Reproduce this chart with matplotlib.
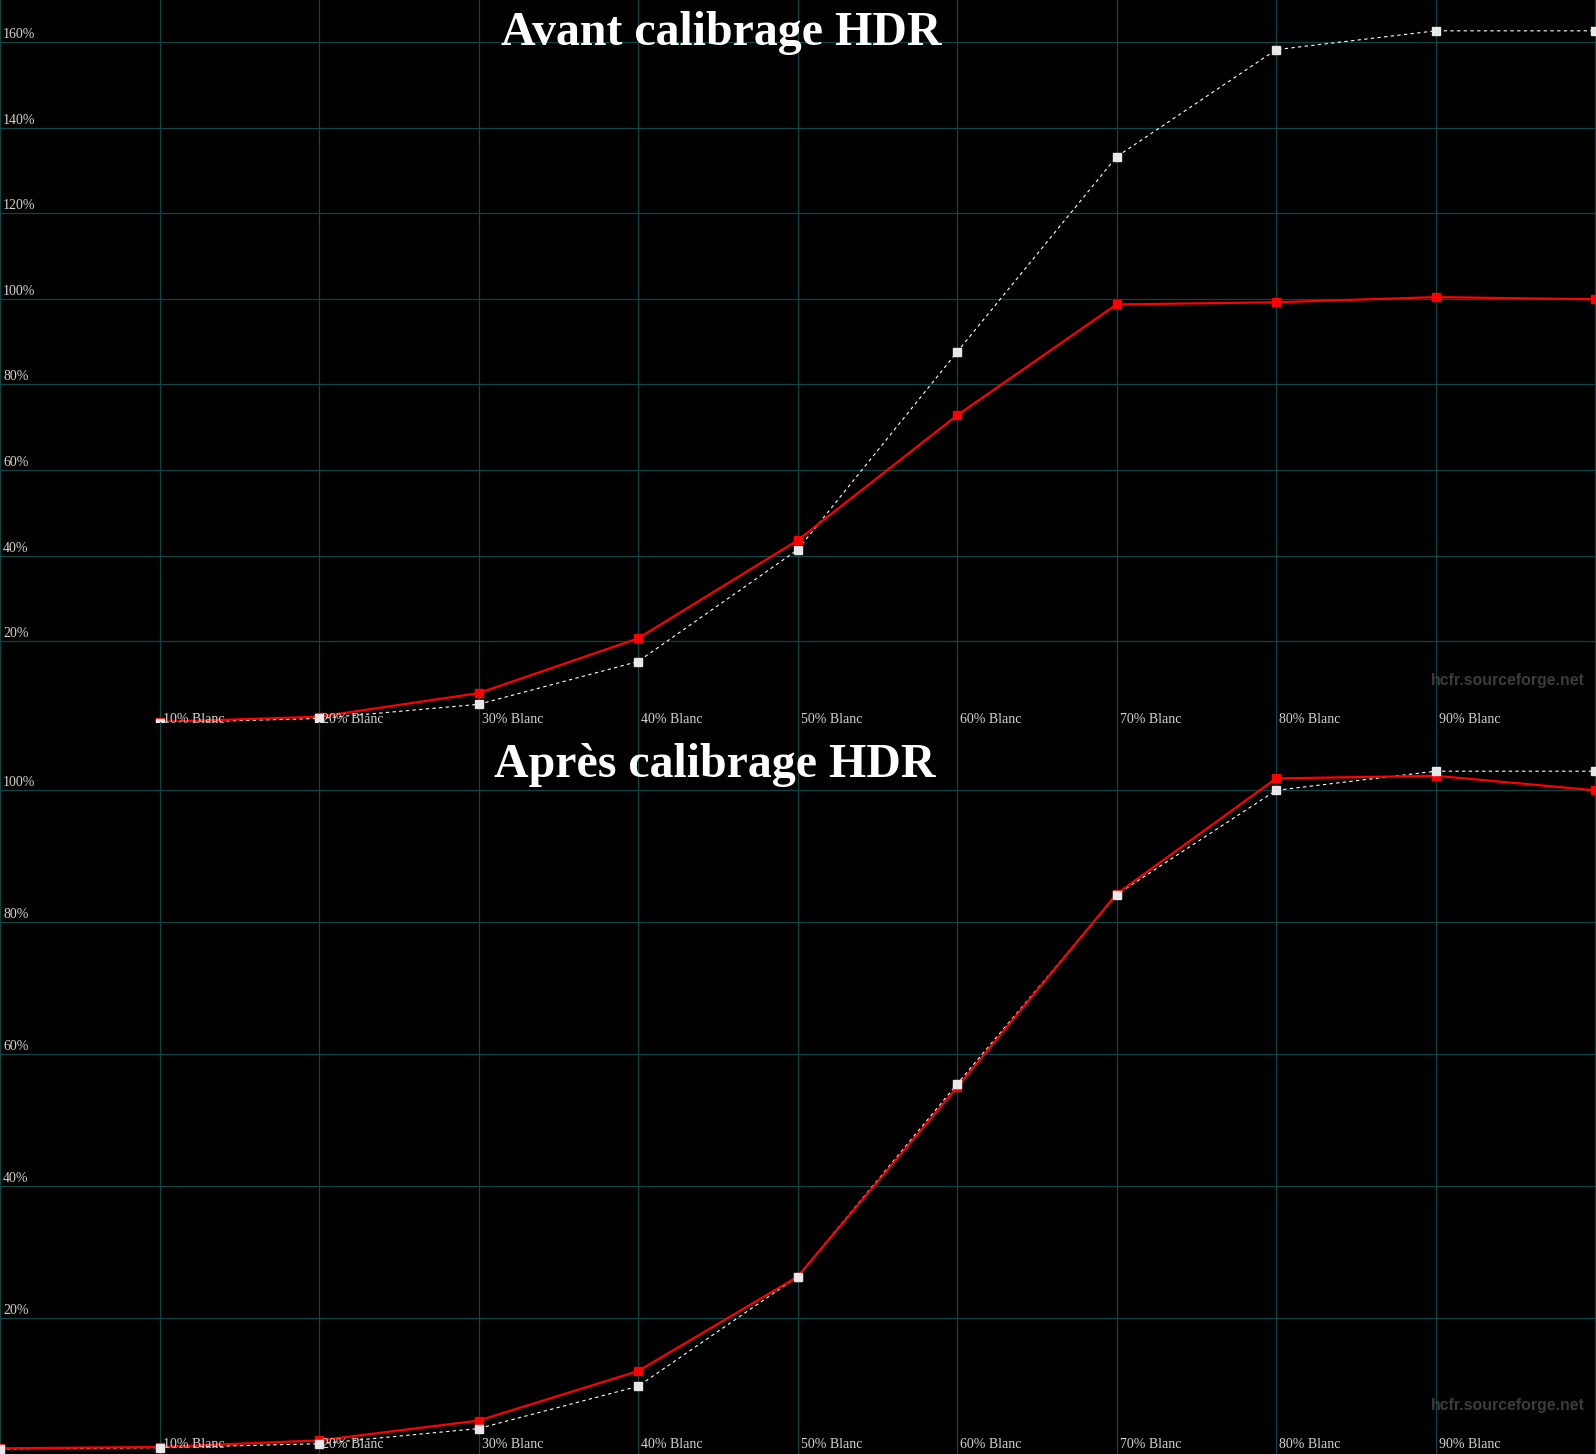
#! /usr/bin/env python

# Courbes EOTF / luminance HDR avant et apres calibrage (style HCFR)
import numpy as np
import matplotlib.pyplot as plt
from matplotlib.transforms import offset_copy

# niveaux de blanc mesures (en %)
levels_top = [10, 20, 30, 40, 50, 60, 70, 80, 90, 100]
levels_bot = [0, 10, 20, 30, 40, 50, 60, 70, 80, 90, 100]

# avant calibrage : mesure (rouge) et reference (blanc pointille)
avant_mesure = [1.2, 2.4, 7.9, 20.7, 43.6, 72.8, 98.7, 99.2, 100.4, 99.9]
avant_ref = [1.0, 2.0, 5.3, 15.3, 41.4, 87.6, 133.2, 158.2, 162.6, 162.6]

# apres calibrage
apres_mesure = [0.3, 0.5, 1.5, 4.5, 12.0, 26.3, 55.0, 84.3, 101.8, 102.2, 100.0]
apres_ref = [0.2, 0.4, 1.0, 3.3, 9.7, 26.3, 55.5, 84.2, 100.0, 102.9, 102.9]

xticks = [10, 20, 30, 40, 50, 60, 70, 80, 90]
xlabels = ["%d%% Blanc" % v for v in xticks]
yticks_top = [20, 40, 60, 80, 100, 120, 140, 160]
yticks_bot = [20, 40, 60, 80, 100]

W, H = 1596, 1454
grid_col = '#0e4646'
lab_col = '#d4d4d4'
serif = ['Liberation Serif', 'DejaVu Serif']


def panel(ax, x, mesure, ref, yticks, ylim, lab_base, wm_y):
    # fond noir = celui de la figure, pas de patch qui cache l'autre panneau
    ax.patch.set_visible(False)
    ax.set_xlim(0, 100.05)
    ax.set_ylim(*ylim)
    for s in ax.spines.values():
        s.set_visible(False)
    ax.set_xticks([])
    ax.set_yticks([])

    # grille + pourcentages, baseline 4 px au-dessus de la ligne
    ytr = offset_copy(ax.transData, fig=ax.figure, x=3, y=4, units='dots')
    for v in range(0, 101, 10):
        ax.axvline(v, color=grid_col, lw=0.9, zorder=1)
    for v in yticks:
        ax.axhline(v, color=grid_col, lw=0.9, zorder=1)
        ax.text(0, v, "%d%%" % v, transform=ytr, color=lab_col,
                fontsize=10, family=serif, ha='left', va='baseline', zorder=5)

    # etiquettes des niveaux
    for v, lab in zip(xticks, xlabels):
        ax.text(v + 0.2, lab_base, lab, transform=ax.get_xaxis_transform(),
                color=lab_col, fontsize=10, family=serif, ha='left',
                va='baseline', zorder=5, clip_on=False)

    # courbes
    ax.plot(x, ref, color='white', lw=0.8, ls=(0, (3, 3)), zorder=2)
    ax.plot(x, mesure, color='#ff0000', lw=1.6, marker='s', ms=6,
            mec='#ff0000', mfc='#ff0000', zorder=3)
    ax.plot(x, ref, ls='none', marker='s', ms=6, mfc='#e8e8e8',
            mec='#e8e8e8', zorder=4)

    ax.text(0.993, wm_y, "hcfr.sourceforge.net", transform=ax.transAxes,
            color='#3c3c3c', fontsize=11.4, fontweight='bold',
            family=['Liberation Sans', 'DejaVu Sans'], ha='right', va='baseline')


fig = plt.figure(figsize=(W / 100, H / 100), dpi=100, facecolor='black')

top_h = 722 / H
ax1 = fig.add_axes([0, 1 - top_h, 1, top_h])
panel(ax1, levels_top, avant_mesure, avant_ref, yticks_top, (1.17, 169.8),
      -1 / 722, (722 - 685) / 722)

ax2 = fig.add_axes([0, 0, 1, 1 - top_h])
panel(ax2, levels_bot, apres_mesure, apres_ref, yticks_bot, (-0.56, 110.35),
      6 / 732, (732 - (1410 - 722)) / 732)

fig.text(721 / W, 1 - 45 / H, "Avant calibrage HDR", color='white',
         fontsize=34.5, fontweight='bold', family=serif, ha='center', va='baseline')
fig.text(715 / W, 1 - 777 / H, "Après calibrage HDR", color='white',
         fontsize=34.5, fontweight='bold', family=serif, ha='center', va='baseline')

fig.savefig('out.png', dpi=100, facecolor='black')
